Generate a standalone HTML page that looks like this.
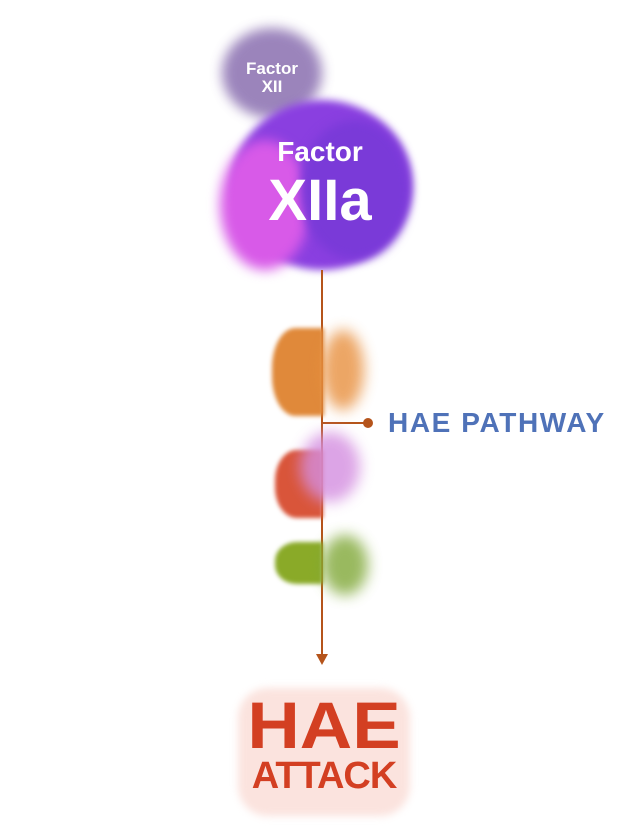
<!DOCTYPE html>
<html><head><style>
html,body{margin:0;width:644px;height:834px;background:#fff;overflow:hidden;position:relative;font-family:"Liberation Sans",sans-serif}
.b{position:absolute;border-radius:50%}
.t{position:absolute;color:#fff;font-weight:bold;text-align:center;line-height:1}
</style></head><body>
<!-- Factor XII -->
<div class="b" style="left:222px;top:28px;width:100px;height:90px;background:#8a6fb0;filter:blur(6px);opacity:.85"></div>
<div class="t" style="left:232px;top:60px;width:80px;font-size:17px;line-height:18px">Factor<br>XII</div>
<!-- Factor XIIa -->
<div class="b" style="left:232px;top:100px;width:180px;height:170px;background:#8a3fe0;filter:blur(4px)"></div>
<div class="b" style="left:220px;top:140px;width:90px;height:130px;background:#d85ae8;filter:blur(6px)"></div>
<div class="b" style="left:300px;top:120px;width:110px;height:140px;background:#7a3ad8;filter:blur(5px)"></div>
<div class="t" style="left:240px;top:138px;width:160px;font-size:28px">Factor</div>
<div class="t" style="left:240px;top:172px;width:160px;font-size:58px">XIIa</div>
<!-- pathway line -->
<div style="position:absolute;left:321px;top:270px;width:2px;height:386px;background:#b5541b"></div>
<div style="position:absolute;left:316px;top:654px;width:0;height:0;border-left:6px solid transparent;border-right:6px solid transparent;border-top:11px solid #b5541b"></div>
<div style="position:absolute;left:322px;top:422px;width:46px;height:2px;background:#b5541b"></div>
<div class="b" style="left:363px;top:418px;width:10px;height:10px;background:#b5541b"></div>
<div style="position:absolute;left:388px;top:407px;font-size:28px;font-weight:bold;color:#4f72b8;letter-spacing:1.6px">HAE PATHWAY</div>
<!-- orange -->
<div class="b" style="left:272px;top:328px;width:52px;height:88px;background:#e0893a;filter:blur(2px);border-radius:45% 0 0 45%"></div>
<div class="b" style="left:322px;top:330px;width:42px;height:80px;background:#e8903f;filter:blur(7px);opacity:.8"></div>
<!-- red/pink -->
<div class="b" style="left:275px;top:450px;width:48px;height:68px;background:#d9553a;filter:blur(2px);border-radius:45% 0 0 45%"></div>
<div class="b" style="left:300px;top:432px;width:60px;height:70px;background:#d48ee0;filter:blur(7px);opacity:.8"></div>
<!-- green -->
<div class="b" style="left:275px;top:542px;width:48px;height:42px;background:#8aaa28;filter:blur(2px);border-radius:45% 0 0 45%"></div>
<div class="b" style="left:322px;top:535px;width:46px;height:60px;background:#80a838;filter:blur(7px);opacity:.8"></div>
<!-- HAE ATTACK -->
<div class="b" style="left:238px;top:688px;width:172px;height:128px;background:#fbe3de;border-radius:30px;filter:blur(4px)"></div>
<div style="position:absolute;left:238px;top:692px;width:172px;text-align:center;font-size:66px;font-weight:900;color:#d33f22;line-height:66px;transform:scaleX(1.1)">HAE</div>
<div style="position:absolute;left:238px;top:756px;width:172px;text-align:center;font-size:38px;font-weight:900;color:#d33f22;line-height:40px;letter-spacing:-1px">ATTACK</div>
</body></html>
